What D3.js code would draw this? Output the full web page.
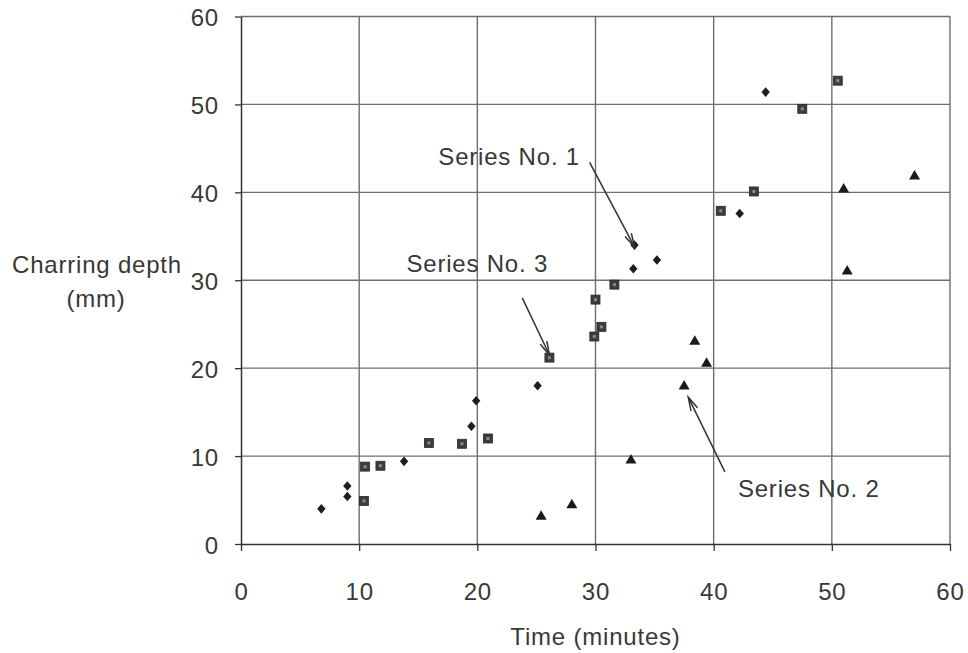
<!DOCTYPE html>
<html>
<head>
<meta charset="utf-8">
<script src="https://cdn.jsdelivr.net/npm/d3@7"></script>
<style>
  body { margin: 0; background: #fff; }
  svg text { font-family: "Liberation Sans", Arial, Helvetica, sans-serif; fill: #383838; letter-spacing: 0.8px; }
</style>
</head>
<body>
<svg id="chart" width="968" height="653"></svg>
<script>
// series no. 1 (diamonds)
var timeS1  = [6.8, 9.0, 9.0, 13.8, 19.5, 19.9, 25.1, 33.2, 33.3, 35.2, 42.2, 44.4];
var depthS1 = [4.0, 6.6, 5.4, 9.4, 13.4, 16.3, 18.0, 31.3, 34.0, 32.3, 37.6, 51.4];

// series no. 2 (triangles)
var timeS2  = [25.4, 28.0, 33.0, 37.5, 38.4, 39.4, 51.0, 51.3, 57.0];
var depthS2 = [3.2, 4.5, 9.6, 18.0, 23.1, 20.6, 40.4, 31.1, 41.9];

// series no. 3 (squares)
var timeS3  = [10.4, 10.5, 11.8, 15.9, 18.7, 20.9, 26.1, 29.9, 30.5, 30.0, 31.6, 40.6, 43.4, 47.5, 50.5];
var depthS3 = [4.9, 8.8, 8.9, 11.5, 11.4, 12.0, 21.2, 23.6, 24.7, 27.8, 29.5, 37.9, 40.1, 49.5, 52.7];

var xTicks = [0, 10, 20, 30, 40, 50, 60];
var yTicks = [0, 10, 20, 30, 40, 50, 60];

// callouts: label anchor and arrow ends, in data units
var noteLabels = ["Series No. 1", "Series No. 3", "Series No. 2"];
var noteTextAt = [[16.7, 43.1], [14.0, 30.9], [42.05, 5.4]];
var noteFrom   = [[29.5, 43.4], [23.8, 28.0], [40.95, 8.2]];
var noteTo     = [[33.3, 33.8], [26.1, 21.5], [37.85, 16.7]];

var svg = d3.select("#chart");
var margin = {left: 241, right: 18, top: 16.5, bottom: 109};
var W = 968, H = 653;
var fontSize = 24;

var x = d3.scaleLinear().domain([0, 60]).range([margin.left, W - margin.right]);
var y = d3.scaleLinear().domain([0, 60]).range([H - margin.bottom, margin.top]);

// grid
var grid = svg.append("g").attr("stroke", "#6e6e6e").attr("stroke-width", 1.4);
grid.selectAll("line.v").data(xTicks.slice(1)).enter().append("line")
    .attr("x1", function (d) { return x(d); }).attr("x2", function (d) { return x(d); })
    .attr("y1", y(0)).attr("y2", y(60));
grid.selectAll("line.h").data(yTicks.slice(1)).enter().append("line")
    .attr("y1", function (d) { return y(d); }).attr("y2", function (d) { return y(d); })
    .attr("x1", x(0)).attr("x2", x(60));

// axes
var xAxis = svg.append("g")
    .attr("transform", "translate(0," + y(0) + ")")
    .call(d3.axisBottom(x).tickValues(xTicks).tickSize(7).tickPadding(32).tickSizeOuter(0));
var yAxis = svg.append("g")
    .attr("transform", "translate(" + x(0) + ",0)")
    .call(d3.axisLeft(y).tickValues(yTicks).tickSize(6).tickPadding(16).tickSizeOuter(0));

[xAxis, yAxis].forEach(function (a) {
    a.select(".domain").attr("stroke", "#333").attr("stroke-width", 1.5);
    a.selectAll(".tick line").attr("stroke", "#333").attr("stroke-width", 1.3);
    a.selectAll("text").attr("font-size", fontSize).attr("fill", "#383838");
});
yAxis.selectAll("text").attr("dy", "0.39em");

// axis titles
svg.append("text").attr("x", (x(0) + x(60)) / 2).attr("y", 645)
    .attr("text-anchor", "middle").attr("font-size", fontSize).text("Time (minutes)");
svg.append("text").attr("x", 97).attr("y", 273)
    .attr("text-anchor", "middle").attr("font-size", fontSize).text("Charring depth");
svg.append("text").attr("x", 96).attr("y", 307)
    .attr("text-anchor", "middle").attr("font-size", fontSize).text("(mm)");

// markers
function diamond(cx, cy) {
    var a = 4.2, b = 4.8;
    return "M" + cx + "," + (cy - b) + "L" + (cx + a) + "," + cy + "L" + cx + "," + (cy + b) + "L" + (cx - a) + "," + cy + "Z";
}
function triangle(cx, cy) {
    var a = 5.5, h = 9.5;
    return "M" + cx + "," + (cy - h * 0.6) + "L" + (cx + a) + "," + (cy + h * 0.4) + "L" + (cx - a) + "," + (cy + h * 0.4) + "Z";
}

var pts = svg.append("g");

pts.selectAll("path.s1").data(timeS1).enter().append("path")
    .attr("d", function (d, i) { return diamond(x(d), y(depthS1[i])); })
    .attr("fill", "#1e1e1e");

pts.selectAll("path.s2").data(timeS2).enter().append("path")
    .attr("d", function (d, i) { return triangle(x(d), y(depthS2[i])); })
    .attr("fill", "#1a1a1a");

var sq = pts.selectAll("g.s3").data(timeS3).enter().append("g")
    .attr("transform", function (d, i) { return "translate(" + x(d) + "," + y(depthS3[i]) + ")"; });
sq.append("rect").attr("x", -4.5).attr("y", -4.5).attr("width", 9).attr("height", 9)
    .attr("fill", "#3c3c3c").attr("stroke", "#2a2a2a").attr("stroke-width", 0.8);
sq.append("rect").attr("x", -1.5).attr("y", -1.5).attr("width", 3).attr("height", 3)
    .attr("fill", "#8a8a8a");

// callouts
var notes = svg.append("g");
noteLabels.forEach(function (label, i) {
    notes.append("text")
        .attr("x", x(noteTextAt[i][0])).attr("y", y(noteTextAt[i][1]))
        .attr("font-size", fontSize).text(label);

    var x1 = x(noteFrom[i][0]), y1 = y(noteFrom[i][1]);
    var x2 = x(noteTo[i][0]), y2 = y(noteTo[i][1]);
    var ang = Math.atan2(y2 - y1, x2 - x1);
    var len = 14, spread = 0.26;
    var b1 = [x2 - len * Math.cos(ang - spread), y2 - len * Math.sin(ang - spread)];
    var b2 = [x2 - len * Math.cos(ang + spread), y2 - len * Math.sin(ang + spread)];

    notes.append("line")
        .attr("x1", x1).attr("y1", y1).attr("x2", x2).attr("y2", y2)
        .attr("stroke", "#333").attr("stroke-width", 1.5);
    notes.append("path")
        .attr("d", "M" + b1[0] + "," + b1[1] + "L" + x2 + "," + y2 + "L" + b2[0] + "," + b2[1])
        .attr("fill", "none").attr("stroke", "#333").attr("stroke-width", 1.5);
});
</script>
</body>
</html>
